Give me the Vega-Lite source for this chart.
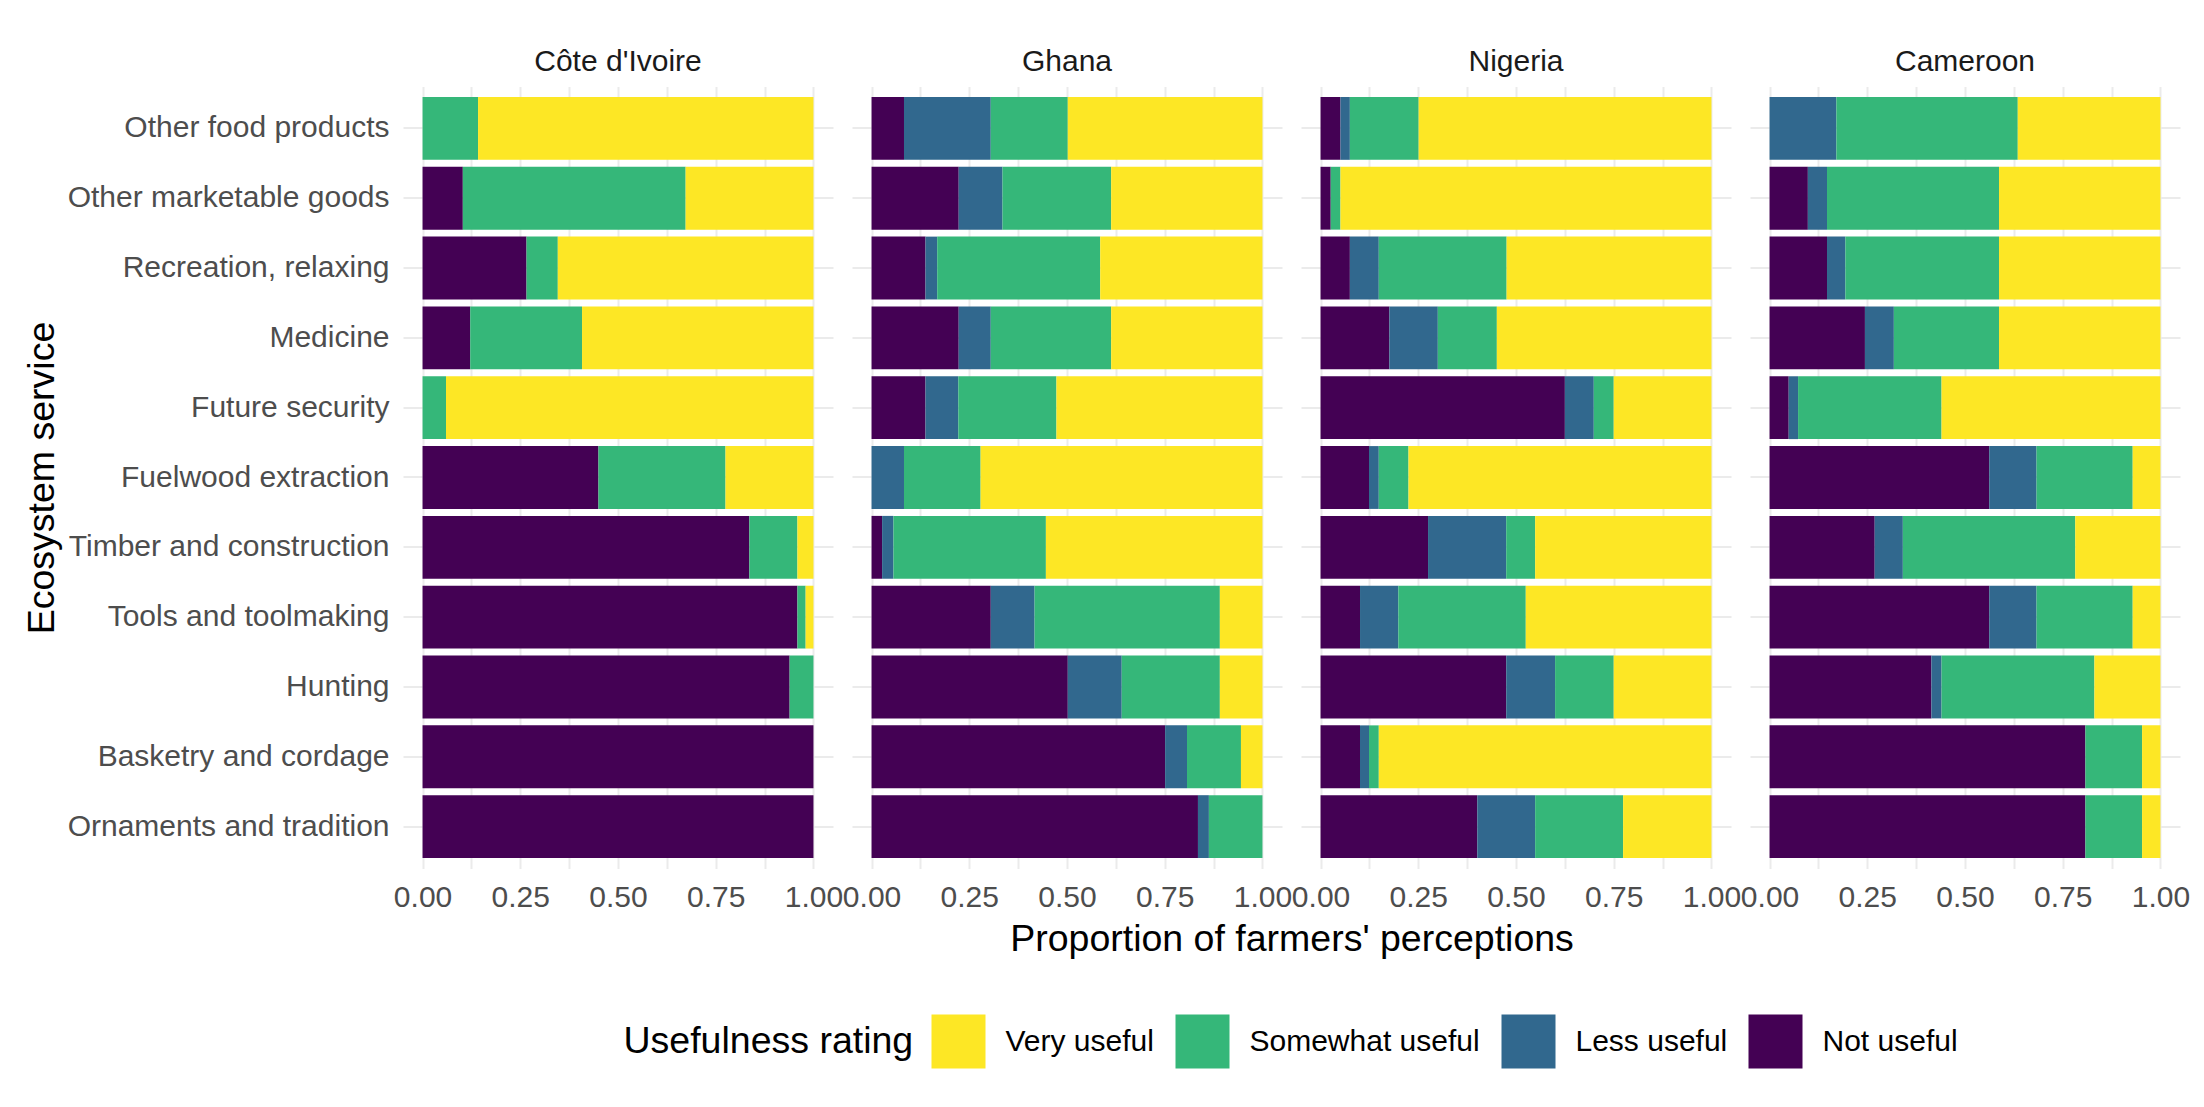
{
  "$schema": "https://vega.github.io/schema/vega-lite/v6.json",
  "background": "white",
  "padding": {"left": 23, "top": 46.5, "right": 10, "bottom": 10},
  "datasets": {
    "levels": [
      {"rating": "Not useful", "level": 1},
      {"rating": "Less useful", "level": 2},
      {"rating": "Somewhat useful", "level": 3},
      {"rating": "Very useful", "level": 4}
    ],
    "perceptions": [
      {"country": "Côte d'Ivoire", "service": "Other food products", "Not useful": 0, "Less useful": 0, "Somewhat useful": 0.142, "Very useful": 0.858},
      {"country": "Côte d'Ivoire", "service": "Other marketable goods", "Not useful": 0.103, "Less useful": 0, "Somewhat useful": 0.570, "Very useful": 0.327},
      {"country": "Côte d'Ivoire", "service": "Recreation, relaxing", "Not useful": 0.266, "Less useful": 0, "Somewhat useful": 0.080, "Very useful": 0.654},
      {"country": "Côte d'Ivoire", "service": "Medicine", "Not useful": 0.122, "Less useful": 0, "Somewhat useful": 0.286, "Very useful": 0.592},
      {"country": "Côte d'Ivoire", "service": "Future security", "Not useful": 0, "Less useful": 0, "Somewhat useful": 0.060, "Very useful": 0.940},
      {"country": "Côte d'Ivoire", "service": "Fuelwood extraction", "Not useful": 0.450, "Less useful": 0, "Somewhat useful": 0.325, "Very useful": 0.225},
      {"country": "Côte d'Ivoire", "service": "Timber and construction", "Not useful": 0.836, "Less useful": 0, "Somewhat useful": 0.123, "Very useful": 0.041},
      {"country": "Côte d'Ivoire", "service": "Tools and toolmaking", "Not useful": 0.959, "Less useful": 0, "Somewhat useful": 0.021, "Very useful": 0.020},
      {"country": "Côte d'Ivoire", "service": "Hunting", "Not useful": 0.939, "Less useful": 0, "Somewhat useful": 0.061, "Very useful": 0},
      {"country": "Côte d'Ivoire", "service": "Basketry and cordage", "Not useful": 1, "Less useful": 0, "Somewhat useful": 0, "Very useful": 0},
      {"country": "Côte d'Ivoire", "service": "Ornaments and tradition", "Not useful": 1, "Less useful": 0, "Somewhat useful": 0, "Very useful": 0},

      {"country": "Ghana", "service": "Other food products", "Not useful": 0.083, "Less useful": 0.222, "Somewhat useful": 0.197, "Very useful": 0.498},
      {"country": "Ghana", "service": "Other marketable goods", "Not useful": 0.223, "Less useful": 0.112, "Somewhat useful": 0.278, "Very useful": 0.387},
      {"country": "Ghana", "service": "Recreation, relaxing", "Not useful": 0.138, "Less useful": 0.030, "Somewhat useful": 0.417, "Very useful": 0.415},
      {"country": "Ghana", "service": "Medicine", "Not useful": 0.223, "Less useful": 0.082, "Somewhat useful": 0.308, "Very useful": 0.387},
      {"country": "Ghana", "service": "Future security", "Not useful": 0.138, "Less useful": 0.084, "Somewhat useful": 0.251, "Very useful": 0.527},
      {"country": "Ghana", "service": "Fuelwood extraction", "Not useful": 0, "Less useful": 0.083, "Somewhat useful": 0.196, "Very useful": 0.721},
      {"country": "Ghana", "service": "Timber and construction", "Not useful": 0.027, "Less useful": 0.029, "Somewhat useful": 0.390, "Very useful": 0.554},
      {"country": "Ghana", "service": "Tools and toolmaking", "Not useful": 0.305, "Less useful": 0.112, "Somewhat useful": 0.474, "Very useful": 0.109},
      {"country": "Ghana", "service": "Hunting", "Not useful": 0.502, "Less useful": 0.138, "Somewhat useful": 0.251, "Very useful": 0.109},
      {"country": "Ghana", "service": "Basketry and cordage", "Not useful": 0.751, "Less useful": 0.056, "Somewhat useful": 0.138, "Very useful": 0.055},
      {"country": "Ghana", "service": "Ornaments and tradition", "Not useful": 0.835, "Less useful": 0.028, "Somewhat useful": 0.137, "Very useful": 0},

      {"country": "Nigeria", "service": "Other food products", "Not useful": 0.051, "Less useful": 0.024, "Somewhat useful": 0.176, "Very useful": 0.749},
      {"country": "Nigeria", "service": "Other marketable goods", "Not useful": 0.026, "Less useful": 0, "Somewhat useful": 0.025, "Very useful": 0.949},
      {"country": "Nigeria", "service": "Recreation, relaxing", "Not useful": 0.075, "Less useful": 0.074, "Somewhat useful": 0.327, "Very useful": 0.524},
      {"country": "Nigeria", "service": "Medicine", "Not useful": 0.176, "Less useful": 0.124, "Somewhat useful": 0.151, "Very useful": 0.549},
      {"country": "Nigeria", "service": "Future security", "Not useful": 0.625, "Less useful": 0.074, "Somewhat useful": 0.051, "Very useful": 0.250},
      {"country": "Nigeria", "service": "Fuelwood extraction", "Not useful": 0.124, "Less useful": 0.025, "Somewhat useful": 0.076, "Very useful": 0.775},
      {"country": "Nigeria", "service": "Timber and construction", "Not useful": 0.275, "Less useful": 0.200, "Somewhat useful": 0.074, "Very useful": 0.451},
      {"country": "Nigeria", "service": "Tools and toolmaking", "Not useful": 0.101, "Less useful": 0.098, "Somewhat useful": 0.326, "Very useful": 0.475},
      {"country": "Nigeria", "service": "Hunting", "Not useful": 0.475, "Less useful": 0.125, "Somewhat useful": 0.150, "Very useful": 0.250},
      {"country": "Nigeria", "service": "Basketry and cordage", "Not useful": 0.101, "Less useful": 0.023, "Somewhat useful": 0.025, "Very useful": 0.851},
      {"country": "Nigeria", "service": "Ornaments and tradition", "Not useful": 0.401, "Less useful": 0.148, "Somewhat useful": 0.225, "Very useful": 0.226},

      {"country": "Cameroon", "service": "Other food products", "Not useful": 0, "Less useful": 0.171, "Somewhat useful": 0.464, "Very useful": 0.365},
      {"country": "Cameroon", "service": "Other marketable goods", "Not useful": 0.098, "Less useful": 0.049, "Somewhat useful": 0.440, "Very useful": 0.413},
      {"country": "Cameroon", "service": "Recreation, relaxing", "Not useful": 0.147, "Less useful": 0.047, "Somewhat useful": 0.393, "Very useful": 0.413},
      {"country": "Cameroon", "service": "Medicine", "Not useful": 0.244, "Less useful": 0.074, "Somewhat useful": 0.269, "Very useful": 0.413},
      {"country": "Cameroon", "service": "Future security", "Not useful": 0.049, "Less useful": 0.024, "Somewhat useful": 0.367, "Very useful": 0.560},
      {"country": "Cameroon", "service": "Fuelwood extraction", "Not useful": 0.562, "Less useful": 0.121, "Somewhat useful": 0.246, "Very useful": 0.071},
      {"country": "Cameroon", "service": "Timber and construction", "Not useful": 0.269, "Less useful": 0.072, "Somewhat useful": 0.441, "Very useful": 0.218},
      {"country": "Cameroon", "service": "Tools and toolmaking", "Not useful": 0.562, "Less useful": 0.121, "Somewhat useful": 0.246, "Very useful": 0.071},
      {"country": "Cameroon", "service": "Hunting", "Not useful": 0.414, "Less useful": 0.026, "Somewhat useful": 0.391, "Very useful": 0.169},
      {"country": "Cameroon", "service": "Basketry and cordage", "Not useful": 0.808, "Less useful": 0, "Somewhat useful": 0.145, "Very useful": 0.047},
      {"country": "Cameroon", "service": "Ornaments and tradition", "Not useful": 0.808, "Less useful": 0, "Somewhat useful": 0.145, "Very useful": 0.047}
    ]
  },
  "data": {"name": "perceptions"},
  "transform": [
    {"fold": ["Not useful", "Less useful", "Somewhat useful", "Very useful"], "as": ["rating", "proportion"]},
    {"lookup": "rating", "from": {"data": {"name": "levels"}, "key": "rating", "fields": ["level"]}}
  ],
  "facet": {
    "column": {
      "field": "country",
      "type": "nominal",
      "title": "Proportion of farmers' perceptions",
      "sort": ["Côte d'Ivoire", "Ghana", "Nigeria", "Cameroon"],
      "header": {
        "labelOrient": "top",
        "labelFontSize": 30,
        "labelColor": "#1A1A1A",
        "labelPadding": 10,
        "labelFont": "Liberation Sans",
        "titleOrient": "bottom",
        "titleFont": "Liberation Sans",
        "titleFontSize": 37.5,
        "titleFontWeight": "normal",
        "titleColor": "#000000",
        "titlePadding": -2
      }
    }
  },
  "spacing": {"column": 19},
  "spec": {
    "width": 430,
    "height": 782,
    "mark": {"type": "bar"},
    "encoding": {
      "y": {
        "field": "service",
        "type": "nominal",
        "sort": ["Other food products", "Other marketable goods", "Recreation, relaxing", "Medicine", "Future security", "Fuelwood extraction", "Timber and construction", "Tools and toolmaking", "Hunting", "Basketry and cordage", "Ornaments and tradition"],
        "scale": {"paddingInner": 0.1, "paddingOuter": 0.15},
        "title": "Ecosystem service",
        "axis": {
          "bandPosition": 0.5,
          "labelPadding": 14,
          "labelLimit": 500,
          "titleAngle": 270,
          "titleBaseline": "middle",
          "titleX": -360.5
        }
      },
      "x": {
        "field": "proportion",
        "type": "quantitative",
        "stack": "zero",
        "scale": {"domain": [-0.05, 1.05], "nice": false, "zero": false},
        "title": null,
        "axis": {
          "values": [0, 0.125, 0.25, 0.375, 0.5, 0.625, 0.75, 0.875, 1],
          "labelExpr": "(datum.value * 4) % 1 === 0 ? format(datum.value, '.2f') : ''",
          "labelPadding": 14
        }
      },
      "color": {
        "field": "rating",
        "type": "nominal",
        "title": "Usefulness rating",
        "scale": {
          "domain": ["Very useful", "Somewhat useful", "Less useful", "Not useful"],
          "range": ["#FDE725", "#35B779", "#31688E", "#440154"]
        },
        "legend": {
          "orient": "none",
          "legendX": 220.5,
          "legendY": 928,
          "direction": "horizontal",
          "titleOrient": "left",
          "titleAnchor": "middle",
          "titleBaseline": "middle"
        }
      },
      "order": {"field": "level", "type": "quantitative"}
    }
  },
  "config": {
    "font": "Liberation Sans",
    "view": {"stroke": null},
    "axis": {
      "domain": false,
      "ticks": false,
      "grid": true,
      "gridColor": "#EBEBEB",
      "gridWidth": 2,
      "labelFont": "Liberation Sans",
      "labelFontSize": 30,
      "labelColor": "#4D4D4D",
      "labelLimit": 500,
      "labelOverlap": false,
      "labelFlush": false,
      "labelBound": false,
      "titleFont": "Liberation Sans",
      "titleFontSize": 37.5,
      "titleFontWeight": "normal",
      "titleColor": "#000000"
    },
    "legend": {
      "symbolType": "square",
      "symbolSize": 2916,
      "symbolStrokeWidth": 0,
      "symbolOpacity": 1,
      "labelFont": "Liberation Sans",
      "labelFontSize": 30,
      "labelColor": "#000000",
      "labelOffset": 20,
      "labelLimit": 400,
      "columnPadding": 21,
      "titleFont": "Liberation Sans",
      "titleFontSize": 37.5,
      "titleFontWeight": "normal",
      "titleColor": "#000000",
      "titlePadding": 18,
      "titleLimit": 600
    }
  }
}
